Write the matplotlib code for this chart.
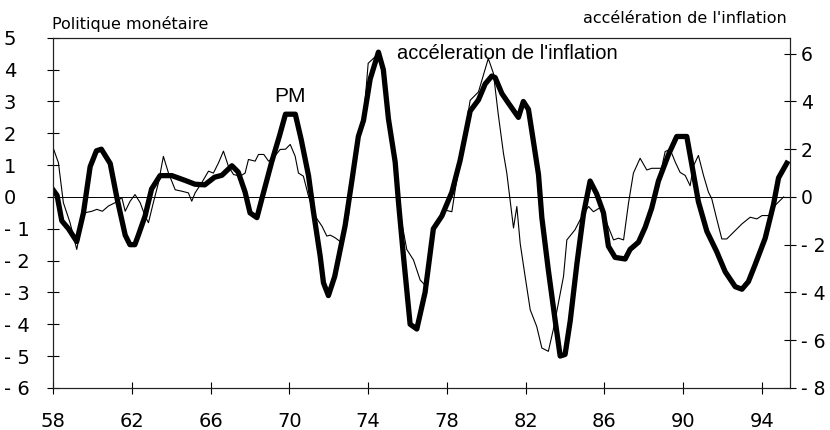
import matplotlib
matplotlib.use("Agg")
import matplotlib.pyplot as plt

# Politique monétaire (left scale)
pm_years = [58.0, 58.2, 58.44, 58.78, 59.2, 59.54, 59.88, 60.2, 60.45, 60.9,
            61.23, 61.66, 61.9, 62.15, 62.33, 62.67, 63.0, 63.43, 64.03, 64.7,
            65.2, 65.7, 66.2, 66.57, 67.08, 67.4, 67.75, 68.0, 68.35, 68.6,
            69.1, 69.5, 69.8, 70.3, 70.6, 70.97, 71.2, 71.56, 71.73, 71.98,
            72.3, 72.83, 73.17, 73.5, 73.76, 74.1, 74.52, 74.77, 75.03, 75.37,
            75.54, 75.79, 76.13, 76.47, 76.89, 77.31, 77.74, 78.25, 78.67, 79.18,
            79.6, 79.94, 80.28, 80.45, 80.79, 81.12, 81.63, 81.88, 82.14, 82.39,
            82.65, 82.82, 83.15, 83.5, 83.75, 84.0, 84.26, 84.6, 84.93, 85.27,
            85.6, 85.95, 86.2, 86.54, 87.05, 87.3, 87.73, 88.07, 88.4, 88.74,
            89.25, 89.67, 90.18, 90.44, 90.77, 91.2, 91.7, 92.13, 92.64, 92.98,
            93.31, 93.65, 94.16, 94.58, 94.84, 95.26]
pm_values = [0.22, 0.05, -0.75, -1.0, -1.4, -0.5, 0.95, 1.45, 1.5, 1.05,
             0.0, -1.2, -1.5, -1.5, -1.2, -0.6, 0.25, 0.67, 0.67, 0.52,
             0.4, 0.38, 0.62, 0.68, 0.98, 0.78, 0.15, -0.5, -0.65, -0.06,
             1.1, 1.93, 2.6, 2.6, 1.8, 0.67, -0.38, -1.85, -2.7, -3.1,
             -2.5, -0.9, 0.5, 1.9, 2.4, 3.7, 4.55, 4.0, 2.45, 1.1,
             -0.17, -1.85, -4.0, -4.15, -3.0, -1.0, -0.6, 0.15, 1.15, 2.7,
             3.05, 3.55, 3.8, 3.75, 3.25, 2.95, 2.5, 3.0, 2.75, 1.75,
             0.7, -0.65, -2.3, -3.9, -5.0, -4.95, -3.9, -2.1, -0.55, 0.5,
             0.1, -0.5, -1.55, -1.9, -1.95, -1.65, -1.42, -0.95, -0.35, 0.5,
             1.33, 1.9, 1.9, 1.0, -0.15, -1.08, -1.72, -2.35, -2.82, -2.9,
             -2.66, -2.13, -1.3, -0.25, 0.6, 1.06]

# accélération de l'inflation (right scale)
infl_years = [58.0, 58.27, 58.52, 58.86, 59.2, 59.46, 59.63, 59.97, 60.22, 60.5,
              60.81, 61.15, 61.49, 61.66, 61.91, 62.16, 62.42, 62.67, 62.84, 63.09,
              63.35, 63.6, 63.86, 64.2, 64.54, 64.87, 65.04, 65.21, 65.55, 65.89,
              66.14, 66.4, 66.65, 66.9, 67.16, 67.5, 67.75, 67.92, 68.26, 68.43,
              68.7, 68.94, 69.19, 69.53, 69.8, 70.04, 70.29, 70.46, 70.71, 70.97,
              71.3, 71.65, 71.9, 72.07, 72.32, 72.66, 73.0, 73.17, 73.5, 73.76,
              74.0, 74.52, 74.77, 75.03, 75.37, 75.45, 75.62, 75.96, 76.3, 76.64,
              76.89, 77.06, 77.4, 77.9, 78.25, 78.42, 78.67, 79.18, 79.6, 80.1,
              80.36, 80.6, 80.87, 81.04, 81.2, 81.38, 81.55, 81.72, 81.97, 82.23,
              82.56, 82.82, 83.15, 83.4, 83.66, 83.92, 84.09, 84.5, 84.85, 85.19,
              85.44, 85.87, 86.12, 86.46, 86.71, 86.97, 87.22, 87.47, 87.81, 88.15,
              88.4, 88.57, 88.9, 89.08, 89.33, 89.6, 89.84, 90.1, 90.35, 90.52,
              90.77, 91.03, 91.28, 91.45, 91.7, 91.96, 92.21, 92.55, 92.98, 93.4,
              93.74, 94.0, 94.41, 94.67, 95.1]
infl_values = [2.06, 1.43, -0.24, -1.08, -2.2, -1.08, -0.66, -0.6, -0.52, -0.6,
               -0.38, -0.24, -0.03, -0.6, -0.18, 0.1, -0.24, -0.8, -1.08, -0.24,
               0.6, 1.7, 1.0, 0.3, 0.24, 0.17, -0.18, 0.17, 0.6, 1.08,
               1.0, 1.43, 1.92, 1.29, 0.94, 0.87, 1.0, 1.57, 1.5, 1.78,
               1.78, 1.5, 1.64, 1.99, 2.0, 2.2, 1.71, 1.0, 0.87, 0.03,
               -0.8, -1.22, -1.64, -1.6, -1.71, -1.92, -0.8, 0.67, 2.53, 3.2,
               5.6, 6.0, 5.3, 3.27, 1.47, 0.0, -0.7, -2.2, -2.64, -3.48,
               -3.7, -3.06, -1.1, -0.55, -0.62, 0.3, 1.5, 4.05, 4.4, 5.8,
               5.18, 3.5, 1.83, 1.0, -0.1, -1.3, -0.4, -1.95, -3.33, -4.73,
               -5.43, -6.33, -6.47, -5.56, -4.45, -3.33, -1.8, -1.38, -0.82, -0.4,
               -0.62, -0.4, -1.1, -1.8, -1.73, -1.8, -0.26, 1.0, 1.62, 1.13,
               1.2, 1.2, 1.2, 1.9, 2.0, 1.45, 1.03, 0.9, 0.47, 1.3,
               1.74, 0.9, 0.2, -0.08, -0.92, -1.76, -1.76, -1.48, -1.13, -0.85,
               -0.92, -0.78, -0.78, -0.35, 0.0]

x_ticks = [58, 62, 66, 70, 74, 78, 82, 86, 90, 94]
left_ticks = [5, 4, 3, 2, 1, 0, -1, -2, -3, -4, -5, -6]
right_ticks = [6, 4, 2, 0, -2, -4, -6, -8]


def tick_text(v):
    # the scale prints negatives as "- 1"
    return "- %d" % abs(v) if v < 0 else "%d" % v


fig = plt.figure(figsize=(8.3, 4.3), dpi=100)
ax = fig.add_axes([0.064, 0.098, 0.888, 0.814])
ax2 = ax.twinx()

ax.plot(pm_years, pm_values, color="black", lw=3.8, solid_joinstyle="round")
ax2.plot(infl_years, infl_values, color="black", lw=0.8)
ax.axhline(0, color="black", lw=0.7)

ax.set_xlim(58, 95.43)
ax.set_ylim(-6, 5)
ax2.set_ylim(-8, 8 * 5 / 6)

ax.set_xticks(x_ticks)
ax.set_xticklabels([str(t) for t in x_ticks])
ax.set_yticks(left_ticks)
ax.set_yticklabels([tick_text(t) for t in left_ticks])
ax2.set_yticks(right_ticks)
ax2.set_yticklabels([tick_text(t) for t in right_ticks])

for a in (ax, ax2):
    for s in a.spines.values():
        s.set_linewidth(0.8)
        s.set_color("#222222")

ax.tick_params(axis="x", direction="inout", length=9, width=0.8,
               labelsize=14, pad=13)
ax.tick_params(axis="y", direction="inout", length=9, width=0.8,
               labelsize=14, pad=31)
for lab in ax.get_yticklabels():
    lab.set_horizontalalignment("left")
ax2.tick_params(axis="y", direction="inout", length=9, width=0.8,
                labelsize=13.5, pad=3)

fig.text(0.063, 0.925, "Politique monétaire", fontsize=11.5, ha="left",
         va="bottom")
fig.text(0.948, 0.94, "accélération de l'inflation", fontsize=11.5,
         ha="right", va="bottom")

ax.text(70.05, 2.85, "PM", fontsize=15, family="Liberation Sans",
        ha="center", va="bottom")
ax.text(75.45, 4.34, "accéleration de l'inflation", fontsize=14.5,
        family="Liberation Sans", ha="left", va="baseline")

fig.savefig("out.png", dpi=100)
